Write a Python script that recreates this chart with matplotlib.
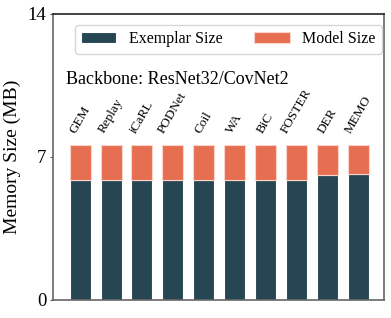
import numpy as np
import matplotlib
matplotlib.use("Agg")
import matplotlib.pyplot as plt

methods = ["GEM", "Replay", "iCaRL", "PODNet", "Coil", "WA", "BiC", "FOSTER", "DER", "MEMO"]
exemplar_size = [5.85, 5.85, 5.85, 5.85, 5.85, 5.85, 5.85, 5.85, 6.12, 6.17]
model_size = [1.75, 1.75, 1.75, 1.75, 1.75, 1.75, 1.75, 1.75, 1.48, 1.43]

plt.rcParams['font.family'] = ['Liberation Serif', 'DejaVu Serif']

fig, ax = plt.subplots(figsize=(3.91, 3.18), dpi=100)
x = np.arange(len(methods))
ex = np.array(exemplar_size)
md = np.array(model_size)

ax.bar(x, ex, width=0.68, color="#264653", edgecolor="#ffffff", linewidth=0.8,
       label="Exemplar Size")
ax.bar(x, md, bottom=ex, width=0.68, color="#E76F51", edgecolor="#fbd5cb", linewidth=0.8,
       label="Model Size")

for xi, tot, name in zip(x, ex + md, methods):
    ax.text(xi, tot + 0.45, name, rotation=60, ha="center", va="bottom", fontsize=9.5)

ax.text(0.04, 0.77, "Backbone: ResNet32/CovNet2", transform=ax.transAxes, fontsize=13,
        ha="left", va="center")

ax.set_ylim(0, 14)
ax.set_yticks([0, 7, 14])
ax.set_xlim(-0.89, 9.84)
ax.set_xticks([])
ax.set_ylabel("Memory Size (MB)", fontsize=14, labelpad=5)
ax.tick_params(axis="y", labelsize=13.5, length=2.5, pad=2, color="#555555")
for name, s in ax.spines.items():
    s.set_color("#222222" if name == "top" else "#666666")
    s.set_linewidth(1.2)
ax.legend(loc="upper center", ncol=2, fontsize=11.5, frameon=True, handlelength=2.2,
          columnspacing=2.0, bbox_to_anchor=(0.53, 0.99))

plt.subplots_adjust(left=0.135, right=0.982, top=0.956, bottom=0.057)
plt.savefig("out.png", dpi=100)
plt.close()
